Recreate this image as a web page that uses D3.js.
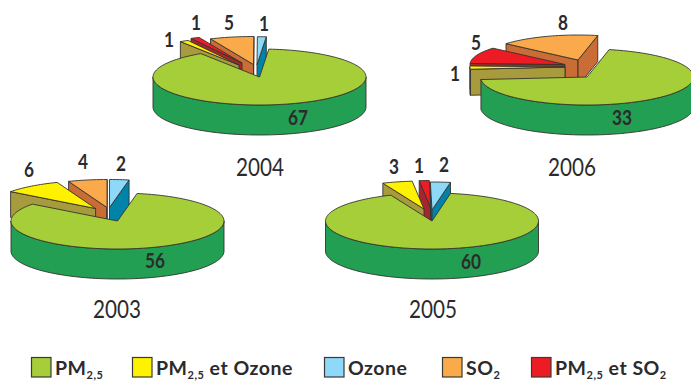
<!DOCTYPE html>
<html><head><meta charset="utf-8">
<script src="https://cdn.jsdelivr.net/npm/d3@7"></script>
<style>html,body{margin:0;padding:0;background:#fff}svg{display:block}text{font-family:Lato,sans-serif;fill:#2b2b2d}</style>
</head><body><div id="c"></div>
<script>
// Data
const categories = ["PM2.5","PM2.5 et Ozone","Ozone","SO2","PM2.5 et SO2"];
const values2003 = [56,6,2,4,0];
const values2004 = [67,1,1,5,1];
const values2005 = [60,3,2,0,1];
const values2006 = [33,1,0,8,5];
const years = ["2003","2004","2005","2006"];

// Styles
const topColors  = ["#a6ce39","#fff200","#8ed8f8","#fbaa4b","#ed1c24"];
const wallColors = ["#229f52","#a89b3e","#0083a9","#c96c35","#a6262e"];
const pieOrder  = [0,1,4,3,2];   // clockwise order of the slices
const drawOrder = [3,4,1,2,0];   // painter's order

// Layout
const layouts = {
  "2003":{values:values2003,cx:117.5,cy:221,start:10.6,label:[117,309],
    offs:{1:[95.6,208.5],2:[109.5,207.5],3:[107,207.5]},
    pos:{0:[155,261],1:[29,170],3:[83,162],2:[121,164]}},
  "2004":{values:values2004,cx:259.5,cy:77,start:5,label:[260,167],
    offs:{1:[239,65],4:[242,63],3:[253.5,64.5],2:[257,64.7]},
    pos:{0:[298,118],1:[169,40],4:[196,23],3:[229,23],2:[264,24]}},
  "2005":{values:values2005,cx:432,cy:221,start:10,label:[433,309],
    offs:{1:[424,209],4:[431,208.5],2:[432,210]},
    pos:{0:[471,262],1:[394,167],4:[419,166],2:[444,165]}},
  "2006":{values:values2006,cx:587,cy:77,start:12,label:[572,167],sr:95,sry:25,
    offs:{1:[565,67],4:[565,64.5],3:[578,60]},
    pos:{0:[622,118],3:[563,23],4:[476,43],1:[455,74]}}
};
const RX=106.5, RY=28, WALL=30, SLICE_WALL=26;

const svg=d3.select("#c").append("svg").attr("width",691).attr("height",384);
const line=d3.line();
const pie=d3.pie().sort(null).value(d=>d.v);
const rad=d=>d*Math.PI/180;
const stroke="#33332e", sw=0.9;

function poly(g,pts,fill){
  g.append("path").attr("d",line(pts)+"Z").attr("fill",fill)
   .attr("stroke",stroke).attr("stroke-width",sw).attr("stroke-linejoin","round");
}

years.forEach(y=>{
  const L=layouts[y], g=svg.append("g");
  const items=pieOrder.map(i=>({i,v:L.values[i]}));
  const arcs=pie.startAngle(rad(L.start)).endAngle(rad(L.start+360))(items);
  const byCat={}; arcs.forEach(a=>byCat[a.data.i]=a);

  drawOrder.forEach(i=>{
    const a=byCat[i];
    if(!a.data.v) return;
    const main=i===0;
    const cx=main?L.cx:L.offs[i][0], cy=main?L.cy:L.offs[i][1];
    const rx=main?RX:(L.sr||RX), ry=main?RY:(L.sry||RY), h=main?WALL:SLICE_WALL;
    const P=(t,r=1,dz=0)=>[cx+r*rx*Math.sin(t), cy-r*ry*Math.cos(t)+dz];
    const sweep=(t0,t1)=>{const n=Math.max(2,Math.ceil((t1-t0)/rad(2)));
      return d3.range(n+1).map(k=>t0+(t1-t0)*k/n);};
    const t0=a.startAngle,t1=a.endAngle;
    if(!main){
      // only the cut faces turned towards the viewer
      if(Math.sin(t0)<0) poly(g,[P(t0,0),P(t0),P(t0,1,h),P(t0,0,h)],wallColors[i]);
      if(Math.sin(t1)>0) poly(g,[P(t1,0),P(t1),P(t1,1,h),P(t1,0,h)],wallColors[i]);
    }
    // curved rim: only the part that faces the viewer
    const lo=Math.max(t0,rad(90)), hi=Math.min(t1,rad(270));
    if(hi>lo){
      const s=sweep(lo,hi);
      poly(g,[...s.map(t=>P(t)),...s.slice().reverse().map(t=>P(t,1,h))],wallColors[i]);
    }
    poly(g,[P(t0,0),...sweep(t0,t1).map(t=>P(t))],topColors[i]);
  });

  // value labels
  d3.range(categories.length).forEach(i=>{
    if(!L.values[i]) return;
    g.append("text").attr("x",L.pos[i][0]).attr("y",L.pos[i][1]+7)
     .attr("text-anchor","middle").attr("font-size",20).attr("font-weight",700)
     .attr("textLength",String(L.values[i]).length*10).attr("lengthAdjust","spacingAndGlyphs")
     .text(L.values[i]);
  });
  g.append("text").attr("x",L.label[0]).attr("y",L.label[1]+9)
   .attr("text-anchor","middle").attr("font-size",25)
   .attr("textLength",48).attr("lengthAdjust","spacingAndGlyphs").text(y);
});

// legend
const legendX=[31,132,324,442,531];
const legendParts=[
  [["PM"],["2,5",1]],
  [["PM"],["2,5",1],[" et Ozone"]],
  [["Ozone"]],
  [["SO"],["2",1]],
  [["PM"],["2,5",1],[" et SO"],["2",1]]
];
categories.forEach((c,i)=>{
  const x=legendX[i];
  svg.append("rect").attr("x",x+.5).attr("y",357.5).attr("width",19.5).attr("height",19.5)
    .attr("fill",topColors[i]).attr("stroke","#3a3a34").attr("stroke-width",1.2);
  const t=svg.append("text").attr("x",x+24).attr("y",374.5).attr("font-size",19.5).attr("font-weight",700)
    .attr("letter-spacing",0.5).style("white-space","pre");
  let low=false;
  legendParts[i].forEach(p=>{
    const sub=!!p[1];
    t.append("tspan").attr("font-size",sub?11:19.5)
     .attr("dy",sub&&!low?4:(!sub&&low?-4:0)).text(p[0]);
    low=sub;
  });
});
</script></body></html>
